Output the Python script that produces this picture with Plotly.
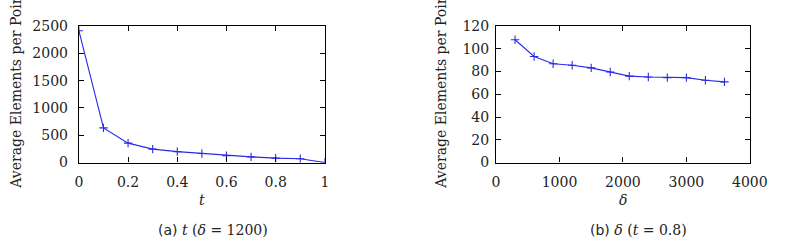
import plotly.graph_objects as go

# Data
t_vals = [0, 0.1, 0.2, 0.3, 0.4, 0.5, 0.6, 0.7, 0.8, 0.9, 1.0]
t_avg = [2415, 635, 355, 246, 200, 166, 126, 103, 80, 69, 0]

delta_vals = [300, 600, 900, 1200, 1500, 1800, 2100, 2400, 2700, 3000, 3300, 3600]
delta_avg = [108, 93.3, 86.8, 85.5, 83.2, 79.6, 76.0, 75.2, 74.7, 74.7, 72.3, 70.9]

W, H = 797, 252
SERIF = "'DejaVu Serif', serif"
TXT = "#222222"
LINE = "#2a2ae8"

def px_x(p):
    return p / W

def px_y(p):
    return 1 - p / H

fig = go.Figure()
for xs, ys, xa, ya in ((t_vals, t_avg, "x", "y"), (delta_vals, delta_avg, "x2", "y2")):
    fig.add_trace(go.Scatter(x=xs, y=ys, mode="lines+markers",
                             line=dict(color=LINE, width=1.1),
                             marker=dict(symbol="cross-thin-open", size=6,
                                         line=dict(color=LINE, width=1.1)),
                             xaxis=xa, yaxis=ya, showlegend=False))

axis_common = dict(showline=True, linecolor="black", linewidth=1.2, mirror="ticks",
                   ticks="inside", ticklen=5, tickwidth=1, tickcolor="black",
                   showgrid=False, zeroline=False,
                   tickfont=dict(family=SERIF, size=14, color=TXT))

ydom = [px_y(165), px_y(19.3)]
fig.update_layout(
    width=W, height=H, margin=dict(l=0, r=0, t=0, b=0),
    paper_bgcolor="white", plot_bgcolor="white",
    xaxis=dict(domain=[px_x(77), px_x(330)], range=[0, 1], tickvals=[0, 0.2, 0.4, 0.6, 0.8, 1],
               ticktext=["0", "0.2", "0.4", "0.6", "0.8", "1"], anchor="y",
               ticklabelstandoff=7, **axis_common),
    yaxis=dict(domain=ydom, range=[0, 2500], tickvals=[0, 500, 1000, 1500, 2000, 2500],
               anchor="x", ticklabelstandoff=7, **axis_common),
    xaxis2=dict(domain=[px_x(506), px_x(767)], range=[0, 4000], tickvals=[0, 1000, 2000, 3000, 4000],
                anchor="y2", ticklabelstandoff=7, **axis_common),
    yaxis2=dict(domain=ydom, range=[0, 120], tickvals=[0, 20, 40, 60, 80, 100, 120],
                anchor="x2", ticklabelstandoff=3, **axis_common),
)

ann_font = dict(family=SERIF, size=14, color=TXT)
annotations = [
    dict(text="<i>t</i>", x=(px_x(77) + px_x(330)) / 2, y=px_y(205)),
    dict(text="<i>δ</i>", x=(px_x(506) + px_x(767)) / 2, y=px_y(205)),
    dict(text="<span style='font-family:DejaVu Sans'>(a)</span> <i>t</i> (<i>δ</i> = 1200)",
         x=px_x(215), y=px_y(237)),
    dict(text="<span style='font-family:DejaVu Sans'>(b)</span> <i>δ</i> (<i>t</i> = 0.8)",
         x=px_x(653), y=px_y(237)),
]
for a in annotations:
    a.update(xref="paper", yref="paper", showarrow=False, font=ann_font,
             xanchor="center", yanchor="middle")
for xc in (12, 450):
    annotations.append(dict(text="Average Elements per Point", x=px_x(xc), y=px_y(195),
                            xref="paper", yref="paper", showarrow=False, textangle=-90,
                            font=ann_font, xanchor="center", yanchor="bottom"))
fig.update_layout(annotations=annotations)

fig.write_html("out.html")
